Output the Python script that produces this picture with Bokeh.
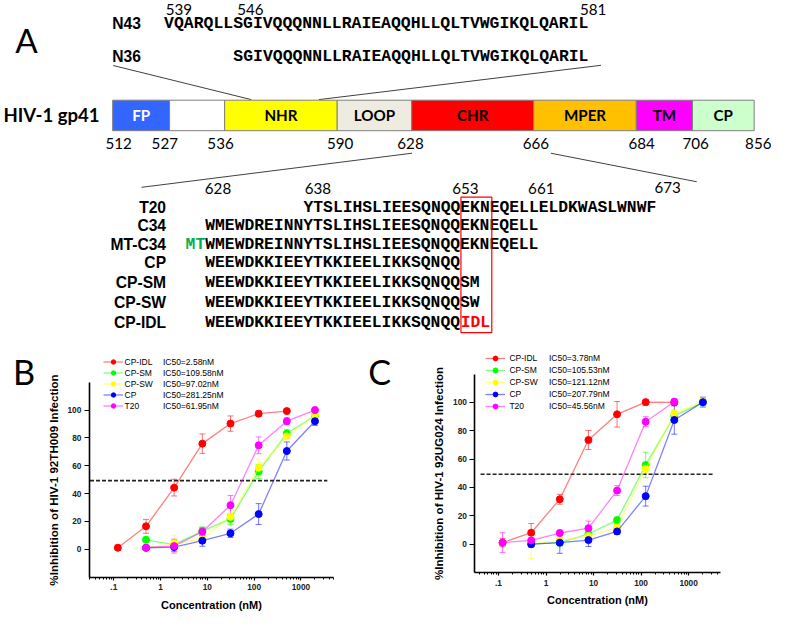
import math
from bokeh.plotting import figure
from bokeh.models import (Range1d, Legend, LegendItem, Label, Whisker, TeeHead,
                          ColumnDataSource, LogTicker, FixedTicker, CustomJSTickFormatter)
from bokeh.layouts import column, row
from bokeh.core.properties import value
from bokeh.embed import file_html
from bokeh.resources import INLINE

SX = 771 / 787   # reference px -> page px (horizontal)
SY = 613 / 629   # reference px -> page px (vertical)
SF = (SX + SY) / 2

# ---------------- Panel A data ----------------
domain_names = ["FP", "", "NHR", "LOOP", "CHR", "MPER", "TM", "CP"]
domain_colors = ["#3366FF", "#FFFFFF", "#FFFF00", "#EEECE1", "#FF0000", "#FFC000", "#FF00FF", "#CCFFCC"]
domain_text_colors = ["white", "black", "black", "black", "black", "black", "black", "black"]
residue_bounds = ["512", "527", "536", "590", "628", "666", "684", "706", "856"]

n_peptides = ["N43", "N36"]
n_sequences = ["VQARQLLSGIVQQQNNLLRAIEAQQHLLQLTVWGIKQLQARIL",
               "SGIVQQQNNLLRAIEAQQHLLQLTVWGIKQLQARIL"]
n_offsets = [0, 7]
n_numbers = ["539", "546", "581"]

c_peptides = ["T20", "C34", "MT-C34", "CP", "CP-SM", "CP-SW", "CP-IDL"]
c_prefix = ["", "", "MT", "", "", "", ""]
c_sequences = ["YTSLIHSLIEESQNQQEKNEQELLELDKWASLWNWF",
               "WMEWDREINNYTSLIHSLIEESQNQQEKNEQELL",
               "WMEWDREINNYTSLIHSLIEESQNQQEKNEQELL",
               "WEEWDKKIEEYTKKIEELIKKSQNQQ",
               "WEEWDKKIEEYTKKIEELIKKSQNQQSM",
               "WEEWDKKIEEYTKKIEELIKKSQNQQSW",
               "WEEWDKKIEEYTKKIEELIKKSQNQQ"]
c_suffix = ["", "", "", "", "", "", "IDL"]
c_offsets = [10, 0, 0, 0, 0, 0, 0]
c_numbers = ["628", "638", "653", "661", "673"]

# ---------------- Panels B / C data ----------------
conc_nM = [0.122, 0.488, 1.95, 7.81, 31.25, 125, 500, 2000]
series_names = ["CP-IDL", "CP-SM", "CP-SW", "CP", "T20"]
series_colors = ["#FF0000", "#00FF00", "#FFFF00", "#0000FF", "#FF00FF"]

b_first = [0, 1, 1, 1, 1]
b_inhibition = [[1.1, 16.5, 44.3, 75.9, 90.3, 97.4, 99.3],
                [6.8, 3.4, 13.1, 21.8, 55.9, 83.2, 95.9],
                [1.1, 4.1, 7.4, 23.4, 58.6, 81.1, 96.6],
                [1.1, 1.6, 6.2, 11.5, 25.3, 70.6, 92.0],
                [1.1, 2.3, 12.6, 31.7, 74.7, 92.0, 100.0]]
b_error = [[2, 5, 6, 7, 5.5, 2, 1.5],
           [2, 3, 3, 4, 5, 3, 2],
           [1.5, 6, 3, 5, 6, 2, 2],
           [1, 3, 4, 3, 7.5, 6.5, 3],
           [1.5, 5, 3, 7, 6, 2.5, 2]]
b_ic50 = ["IC50=2.58nM", "IC50=109.58nM", "IC50=97.02nM", "IC50=281.25nM", "IC50=61.95nM"]

c_first = [0, 1, 1, 1, 0]
c_inhibition = [[1.1, 8.1, 31.7, 73.5, 91.6, 100.2, 100.0],
                [0.0, 1.1, 7.2, 17.0, 55.9, 90.5, 100.0],
                [0.0, 2.7, 5.7, 11.8, 53.2, 92.1, 100.7],
                [0.0, 1.1, 2.9, 9.0, 33.9, 87.6, 100.2],
                [1.1, 2.7, 7.9, 11.3, 37.8, 86.4, 100.5]]
c_error = [[3, 6.5, 3.5, 6.7, 9, 2, 1],
           [2, 3, 3, 2, 9, 3, 2],
           [10, 3, 3, 2, 3, 3, 2],
           [2, 7.5, 4.5, 2, 7, 10, 3.5],
           [7, 1.5, 2, 5, 3.5, 3.5, 2]]
c_ic50 = ["IC50=3.78nM", "IC50=105.53nM", "IC50=121.12nM", "IC50=207.79nM", "IC50=45.56nM"]

cutoff_pct = 49.3
b_cutoff_x = [0.031, 3670]
c_cutoff_x = [0.042, 3440]
y_ticks = [0, 20, 40, 60, 80, 100]
y_limits = (-20, 120)

# ---------------- Panel A layout (reference px) ----------------
box_edges_x = [114.5, 172.6, 228.8, 343.7, 419.8, 544.3, 649.0, 706.3, 769.3]
bar_top, bar_bottom = 102.3, 133.6
bound_label_x = [120.5, 167.7, 224.6, 346.6, 418.5, 546.5, 654.5, 709.5, 773.5]
row_y = [212.3, 231.2, 250.0, 269.0, 289.3, 310.0, 330.2]
MONO = "Courier New, Nimbus Mono PS, FreeMono, Liberation Mono"
CW = 10.03     # char advance (ref px) for peptide rows
CWN = 10.1     # char advance (ref px) for N-peptide rows


def fs(ref_px):
    return value(f"{ref_px * SF:.2f}px")


def txt(p, xs, ys, texts, font, size, style="normal", color="black", align="left", baseline="middle"):
    p.text(x=xs, y=ys, text=texts, text_font=value(font), text_font_size=fs(size),
           text_font_style=style, text_color=color, text_align=align, text_baseline=baseline)


A_H = 351
pA = figure(width=771, height=A_H, x_range=Range1d(0, 787), y_range=Range1d(A_H / SY, 0),
            output_backend="svg", toolbar_location=None, min_border=0,
            x_axis_location=None, y_axis_location=None)
pA.outline_line_color = None
pA.grid.visible = False

txt(pA, [26.5], [41], ["A"], "Lato", 34, align="center")
txt(pA, [182, 255, 605], [9.5, 9.5, 9.5], n_numbers, "Lato", 15.5, align="center")
txt(pA, [114, 114], [24, 57], n_peptides, "Liberation Sans", 16, style="bold")
txt(pA, [167 + o * CWN for o in n_offsets], [24, 57], n_sequences, MONO, 16.85, style="bold")

pA.segment(x0=[115, 613, 420, 561.7], y0=[66.7, 66.5, 156.7, 156.7],
           x1=[256, 325, 144, 710.7], y1=[101.7, 101.7, 191.7, 186],
           line_color="#404040", line_width=1)

txt(pA, [3], [118], ["HIV-1 gp41"], "Lato", 19, style="bold")
pA.quad(left=box_edges_x[:-1], right=box_edges_x[1:], top=bar_top, bottom=bar_bottom,
        fill_color=domain_colors, line_color="#7F7F7F", line_width=1)
mids = [(a + b) / 2 for a, b in zip(box_edges_x[:-1], box_edges_x[1:])]
pA.text(x=mids, y=[117.8] * len(mids), text=domain_names, text_color=domain_text_colors,
        text_font=value("Lato"), text_font_size=fs(15.5), text_font_style="bold",
        text_align="center", text_baseline="middle")
txt(pA, bound_label_x, [146.7] * 9, residue_bounds, "Lato", 15.5, align="center")

txt(pA, [222, 324, 474.5, 552, 681], [193.3, 193.3, 193.3, 193.3, 191.7], c_numbers, "Lato", 15.5, align="center")
txt(pA, [169] * 7, row_y, c_peptides, "Liberation Sans", 16, style="bold", align="right")
seq_x0 = 209
txt(pA, [seq_x0 + o * CW for o in c_offsets], row_y, c_sequences, MONO, 16.72, style="bold")
pre = [(seq_x0 - len(s) * CW, y, s) for s, y in zip(c_prefix, row_y) if s]
txt(pA, [a for a, _, _ in pre], [b for _, b, _ in pre], [c for _, _, c in pre], MONO, 16.72,
    style="bold", color="#00B050")
suf = [(seq_x0 + len(q) * CW, y, s) for s, q, y in zip(c_suffix, c_sequences, row_y) if s]
txt(pA, [a for a, _, _ in suf], [b for _, b, _ in suf], [c for _, _, c in suf], MONO, 16.72,
    style="bold", color="#FF0000")
pA.quad(left=[470], right=[501.5], top=[201.7], bottom=[340.7], fill_color=None,
        line_color="#FF0000", line_width=1.2)


# ---------------- Panels B / C ----------------
BC_H = 613 - A_H


def dose_panel(letter, ylabel, inhib, err, first, ic50, xr, cut_x, width, x0, area,
               letter_c, row1, pitch, glyph_left, label_left, ic50_left):
    y0 = A_H / SY
    w_ref = width / SX
    h_ref = BC_H / SY
    L, R, T, Bm = area          # ref px: x of xr[0], x of xr[1], y of top limit, y of bottom limit
    lo, hi = math.log10(xr[0]), math.log10(xr[1])
    per = (R - L) / (hi - lo)
    x_lo = 10 ** (lo - (L - x0) / per)
    x_hi = 10 ** (hi + (x0 + w_ref - R) / per)
    per_y = (Bm - T) / (y_limits[1] - y_limits[0])
    y_lo = y_limits[0] - (y0 + h_ref - Bm) / per_y
    y_hi = y_limits[1] + (T - y0) / per_y

    def sx(rx):
        return (rx - x0) * SX

    def sy(ry):
        return BC_H - (ry - y0) * SY

    p = figure(width=width, height=BC_H, x_axis_type="log", x_range=Range1d(x_lo, x_hi),
               y_range=Range1d(y_lo, y_hi), output_backend="svg", toolbar_location=None,
               min_border=0)
    p.outline_line_color = None
    p.grid.visible = False

    xa = p.xaxis[0]
    ya = p.yaxis[0]
    xa.fixed_location = y_limits[0]
    xa.bounds = xr
    ya.fixed_location = xr[0]
    ya.bounds = y_limits
    xa.ticker = LogTicker(num_minor_ticks=10)
    xa.formatter = CustomJSTickFormatter(
        code="return tick < 1 ? '.' + Math.round(tick * 10) : Math.round(tick).toString();")
    ya.ticker = FixedTicker(ticks=y_ticks)
    for ax in (xa, ya):
        ax.axis_line_width = 1.6
        ax.axis_line_color = "black"
        ax.major_tick_line_color = "black"
        ax.major_tick_line_width = 1.2
        ax.major_tick_in = 0
        ax.minor_tick_in = 0
        ax.major_label_text_font = "Liberation Sans"
        ax.major_label_text_font_style = "bold"
        ax.major_label_text_font_size = "8.3px"
        ax.major_label_text_color = "#222222"
        ax.axis_label_text_font = "Liberation Sans"
        ax.axis_label_text_font_style = "bold"
        ax.axis_label_text_color = "black"
    xa.major_tick_out = 3
    xa.minor_tick_out = 2
    xa.minor_tick_line_color = "black"
    xa.major_label_standoff = 4
    xa.axis_label = "Concentration (nM)"
    xa.axis_label_text_font_size = "11px"
    xa.axis_label_standoff = 5
    ya.major_tick_out = 5
    ya.minor_tick_line_color = None
    ya.major_label_standoff = 3
    ya.axis_label = ylabel
    ya.axis_label_text_font_size = "11.6px"
    ya.axis_label_standoff = 5

    p.line(x=cut_x, y=[cutoff_pct, cutoff_pct], line_color="#222222", line_width=1.6, line_dash="4 2")

    items = []
    for i, name in enumerate(series_names):
        c = series_colors[i]
        ys = inhib[i]
        xs = conc_nM[first[i]:first[i] + len(ys)]
        src = ColumnDataSource(dict(x=xs, y=ys,
                                    lo=[y - e for y, e in zip(ys, err[i])],
                                    hi=[y + e for y, e in zip(ys, err[i])]))
        lr = p.line("x", "y", source=src, line_color=c, line_alpha=0.5, line_width=1.3)
        p.add_layout(Whisker(base="x", upper="hi", lower="lo", source=src, line_color=c,
                             line_alpha=0.55, line_width=1,
                             upper_head=TeeHead(size=6, line_color=c, line_alpha=0.55, line_width=1),
                             lower_head=TeeHead(size=6, line_color=c, line_alpha=0.55, line_width=1)))
        sr = p.scatter("x", "y", source=src, size=7, fill_color=c, line_color=c)
        items.append(LegendItem(label=name, renderers=[lr, sr]))

    n = len(series_names)
    top = (row1 - y0) * SY - pitch / 2
    vy = BC_H - (top + n * pitch)
    common = dict(orientation="vertical", glyph_height=pitch, label_height=pitch, spacing=0,
                  padding=0, margin=0, border_line_color=None, background_fill_alpha=0,
                  label_text_font="Liberation Sans", label_text_font_size="8.5px",
                  label_text_color="black")
    standoff = int(round((label_left - glyph_left) * SX - 20))
    p.add_layout(Legend(items=items, location=(sx(glyph_left), vy), glyph_width=20,
                        label_standoff=standoff, **common))
    dummy = p.scatter(x=[], y=[], alpha=0)
    p.add_layout(Legend(items=[LegendItem(label=t, renderers=[dummy]) for t in ic50],
                        location=(sx(ic50_left) - 1, vy), glyph_width=1, label_standoff=0, **common))

    p.add_layout(Label(x=sx(letter_c[0]), y=sy(letter_c[1]), x_units="screen", y_units="screen",
                       text=letter, text_font="Lato", text_font_size=f"{35 * SF:.1f}px",
                       text_align="center", text_baseline="middle", text_color="black"))
    return p


B_W = 352
pB = dose_panel("B", "%Inhibition of HIV-1 92TH009 Infection", b_inhibition, b_error, b_first, b_ic50,
                (0.03, 5000), b_cutoff_x, B_W, 0.0, (90.7, 340, 391.7, 591.7),
                (24, 381), 371.3, 11, 104.7, 127.3, 166.3)
pC = dose_panel("C", "%Inhibition of HIV-1 92UG024 Infection", c_inhibition, c_error, c_first, c_ic50,
                (0.032, 4700), c_cutoff_x, 771 - B_W, B_W / SX, (484.3, 735, 383.3, 587),
                (387, 381), 367, 12, 495.5, 520.3, 560.3)

layout = column(pA, row(pB, pC))
open("out.html", "w").write(file_html(layout, INLINE))
